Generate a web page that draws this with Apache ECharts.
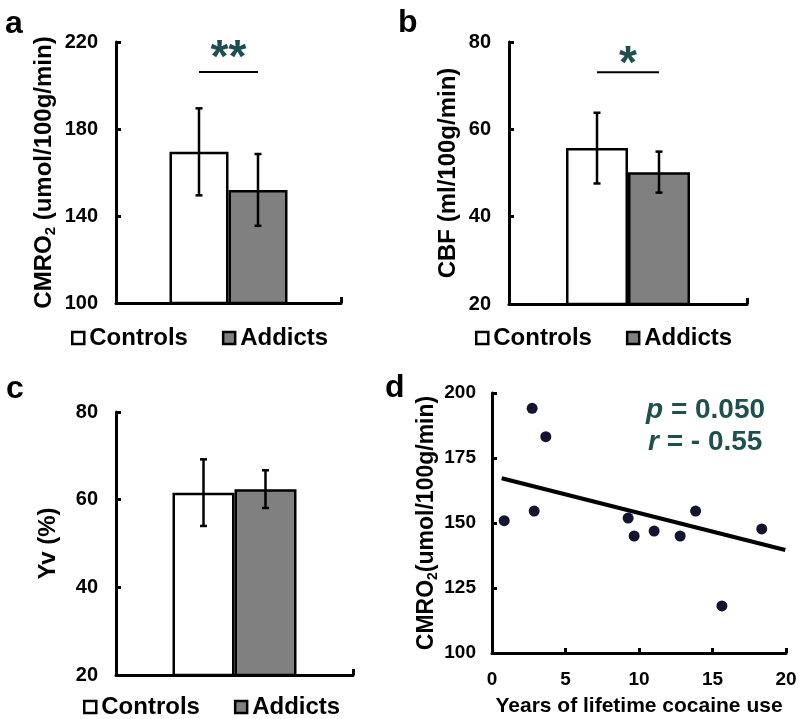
<!DOCTYPE html>
<html><head><meta charset="utf-8">
<script src="https://cdn.jsdelivr.net/npm/echarts@6/dist/echarts.min.js"></script>
<style>html,body{margin:0;padding:0;background:#fff}#c{width:800px;height:719px}</style>
</head><body><div id="c"></div>
<script>
// ---------- data ----------
const groups = ['Controls', 'Addicts'];
const cmroMean = [169.5, 152.0];
const cmroErr = [20.0, 16.5];
const cbfMean = [55.7, 50.2];
const cbfErr = [8.1, 4.7];
const yvMean = [61.6, 62.4];
const yvErr = [7.6, 4.3];
// significance bracket (line value, star value) in axis units
const sigCmro = [206.2, 216.6];
const sigCbf = [73.1, 77.0];
const starsCmro = '**';
const starsCbf = '*';
// panel d scatter
const cocaineYears = [0.83, 2.73, 2.87, 3.66, 9.26, 9.67, 11.03, 12.8, 13.85, 15.64, 18.35];
const cocaineCmro = [150.9, 194.1, 154.6, 183.2, 151.9, 145.0, 146.9, 145.0, 154.6, 118.1, 147.7];
const fitYears = [0.66, 19.95];
const fitCmro = [167.2, 139.6];
const statP = '0.050';
const statR = '- 0.55';
// axis ranges
const cmroAxis = {min: 100, max: 220, interval: 40};
const cbfAxis = {min: 20, max: 80, interval: 20};
const yvAxis = {min: 20, max: 80, interval: 20};
const dXAxis = {min: 0, max: 20, interval: 5};
const dYAxis = {min: 100, max: 200, interval: 25};

// ---------- styles ----------
const FONT = '"Liberation Sans", Arial, Helvetica, sans-serif';
const TEAL = '#1f4f4f';
const AXW = 3;
const lineStyle = {color: '#000', width: AXW};

function valueY(idx, rng, name, gap, fs, labelFs, rich) {
  return {
    type: 'value', gridIndex: idx, min: rng.min, max: rng.max, interval: rng.interval,
    axisLine: {show: true, lineStyle},
    axisTick: {show: true, inside: true, length: 5, lineStyle},
    splitLine: {show: false},
    axisLabel: {fontSize: labelFs, fontWeight: 'bold', color: '#000', fontFamily: FONT, margin: 18},
    name: name, nameLocation: 'middle', nameRotate: 90, nameGap: gap,
    nameTextStyle: {fontSize: fs, fontWeight: 'bold', color: '#000', fontFamily: FONT, rich: rich}
  };
}
function catX(idx) {
  return {
    type: 'category', gridIndex: idx, data: [''], boundaryGap: true,
    axisLine: {show: true, lineStyle},
    axisTick: {show: true, inside: true, length: 6, lineStyle},
    axisLabel: {show: false}, splitLine: {show: false}
  };
}
// helper axis that only draws the end ticks of the category baseline
function edgeX(idx) {
  return {
    type: 'value', gridIndex: idx, position: 'bottom', min: 0, max: 1, interval: 1,
    axisLine: {show: false},
    axisTick: {show: true, inside: true, length: 6, lineStyle},
    axisLabel: {show: false}, splitLine: {show: false}
  };
}
function barSeries(idx, means, barW) {
  return groups.map((g, i) => ({
    type: 'bar', name: g, xAxisIndex: idx, yAxisIndex: idx,
    data: [means[i]], barWidth: barW, barGap: '0%',
    itemStyle: {color: i === 0 ? '#ffffff' : '#808080', borderColor: '#000', borderWidth: 2.5},
    emphasis: {disabled: true}, z: 2
  }));
}
function errSeries(idx, means, errs, barW) {
  return groups.map((g, i) => ({
    type: 'custom', xAxisIndex: idx, yAxisIndex: idx, z: 5, silent: true,
    data: [[0, means[i], errs[i]]],
    renderItem: function (params, api) {
      const top = api.coord([api.value(0), api.value(1) + api.value(2)]);
      const bot = api.coord([api.value(0), api.value(1) - api.value(2)]);
      const x = top[0] + (i === 0 ? -barW / 2 : barW / 2);
      const cap = 3.5;
      const st = {stroke: '#000', lineWidth: 2.5};
      return {type: 'group', children: [
        {type: 'line', shape: {x1: x, y1: top[1], x2: x, y2: bot[1]}, style: st},
        {type: 'line', shape: {x1: x - cap, y1: top[1], x2: x + cap, y2: top[1]}, style: st},
        {type: 'line', shape: {x1: x - cap, y1: bot[1], x2: x + cap, y2: bot[1]}, style: st}
      ]};
    }
  }));
}
function sigSeries(idx, sig, stars, barW) {
  return {
    type: 'custom', xAxisIndex: idx, yAxisIndex: idx, z: 6, silent: true, clip: false,
    data: [[0, sig[0], sig[1]]],
    renderItem: function (params, api) {
      const l = api.coord([api.value(0), api.value(1)]);
      const s = api.coord([api.value(0), api.value(2)]);
      return {type: 'group', children: [
        {type: 'line', shape: {x1: l[0] - barW / 2, y1: l[1], x2: l[0] + barW / 2, y2: l[1]},
          style: {stroke: '#000', lineWidth: 2}},
        {type: 'text', x: s[0], y: s[1] + 10,
          style: {text: stars, fill: TEAL, font: 'bold 46px ' + FONT, align: 'center', verticalAlign: 'middle'}}
      ]};
    }
  };
}
function legendAt(left, top) {
  return {
    data: groups, left: left, top: top, orient: 'horizontal', icon: 'rect',
    itemWidth: 12, itemHeight: 12, itemGap: 34, selectedMode: false,
    itemStyle: {borderColor: '#000', borderWidth: 2.5},
    textStyle: {fontSize: 24, fontWeight: 'bold', color: '#000', fontFamily: FONT}
  };
}
const subRich = {
  n: {fontSize: 24, fontWeight: 'bold', color: '#000', fontFamily: FONT},
  s: {fontSize: 15, fontWeight: 'bold', color: '#000', fontFamily: FONT, verticalAlign: 'bottom', padding: [0, 0, -2, 0]}
};
const subRichD = {
  n: {fontSize: 23, fontWeight: 'bold', color: '#000', fontFamily: FONT},
  s: {fontSize: 14, fontWeight: 'bold', color: '#000', fontFamily: FONT, verticalAlign: 'bottom', padding: [0, 0, -2, 0]}
};

const BWA = 59, BWB = 62, BWC = 62;
const option = {
  backgroundColor: '#fff',
  animation: false,
  grid: [
    {left: 116, top: 42, width: 225, height: 261, containLabel: false, outerBoundsMode: 'none'},
    {left: 509, top: 42, width: 238, height: 262, containLabel: false, outerBoundsMode: 'none'},
    {left: 116, top: 412, width: 237, height: 263, containLabel: false, outerBoundsMode: 'none'},
    {left: 492, top: 393, width: 294, height: 260, containLabel: false, outerBoundsMode: 'none'}
  ],
  xAxis: [catX(0), catX(1), catX(2), {
    type: 'value', gridIndex: 3, min: dXAxis.min, max: dXAxis.max, interval: dXAxis.interval,
    axisLine: {show: true, lineStyle},
    axisTick: {show: true, inside: true, length: 5, lineStyle},
    splitLine: {show: false},
    axisLabel: {fontSize: 19, fontWeight: 'bold', color: '#000', fontFamily: FONT, margin: 17},
    name: 'Years of lifetime cocaine use', nameLocation: 'middle', nameGap: 43,
    nameTextStyle: {fontSize: 21, fontWeight: 'bold', color: '#000', fontFamily: FONT}
  }, edgeX(0), edgeX(1), edgeX(2)],
  yAxis: [
    valueY(0, cmroAxis, '{n|CMRO}{s|2}{n| (umol/100g/min)}', 60, 24, 20, subRich),
    valueY(1, cbfAxis, 'CBF (ml/100g/min)', 49, 24, 20),
    valueY(2, yvAxis, 'Yv (%)', 56, 24, 20),
    Object.assign(valueY(3, dYAxis, '{n|CMRO}{s|2}{n|(umol/100g/min)}', 54, 23, 19, subRichD),
      {axisLabel: {fontSize: 19, fontWeight: 'bold', color: '#000', fontFamily: FONT, margin: 16}})
  ],
  legend: [legendAt(66, 321), legendAt(470, 321), legendAt(78, 690)],
  series: [].concat(
    barSeries(0, cmroMean, BWA), errSeries(0, cmroMean, cmroErr, BWA), [sigSeries(0, sigCmro, starsCmro, BWA)],
    barSeries(1, cbfMean, BWB), errSeries(1, cbfMean, cbfErr, BWB), [sigSeries(1, sigCbf, starsCbf, BWB)],
    barSeries(2, yvMean, BWC), errSeries(2, yvMean, yvErr, BWC),
    [{
      type: 'line', xAxisIndex: 3, yAxisIndex: 3, data: fitYears.map((x, i) => [x, fitCmro[i]]),
      symbol: 'none', lineStyle: {color: '#000', width: 4}, silent: true, z: 3
    }, {
      type: 'scatter', xAxisIndex: 3, yAxisIndex: 3, data: cocaineYears.map((x, i) => [x, cocaineCmro[i]]),
      symbolSize: 11, itemStyle: {color: '#14142e', opacity: 1}, z: 4
    }]
  ),
  graphic: [
    {type: 'text', left: 5, top: 8, style: {text: 'a', font: 'bold 32px ' + FONT, fill: '#000'}},
    {type: 'text', left: 398, top: 7, style: {text: 'b', font: 'bold 32px ' + FONT, fill: '#000'}},
    {type: 'text', left: 6, top: 373, style: {text: 'c', font: 'bold 32px ' + FONT, fill: '#000'}},
    {type: 'text', left: 385, top: 372, style: {text: 'd', font: 'bold 32px ' + FONT, fill: '#000'}},
    {type: 'text', left: 646, top: 396, style: {
      text: '{i|p}{n| = ' + statP + '}',
      rich: {i: {font: 'italic bold 28px ' + FONT, fill: TEAL}, n: {font: 'bold 28px ' + FONT, fill: TEAL}}}},
    {type: 'text', left: 648, top: 428, style: {
      text: '{i|r}{n| = ' + statR + '}',
      rich: {i: {font: 'italic bold 28px ' + FONT, fill: TEAL}, n: {font: 'bold 28px ' + FONT, fill: TEAL}}}}
  ]
};
const chart = echarts.init(document.getElementById('c'), null, {renderer: 'canvas'});
chart.setOption(option);
</script></body></html>
